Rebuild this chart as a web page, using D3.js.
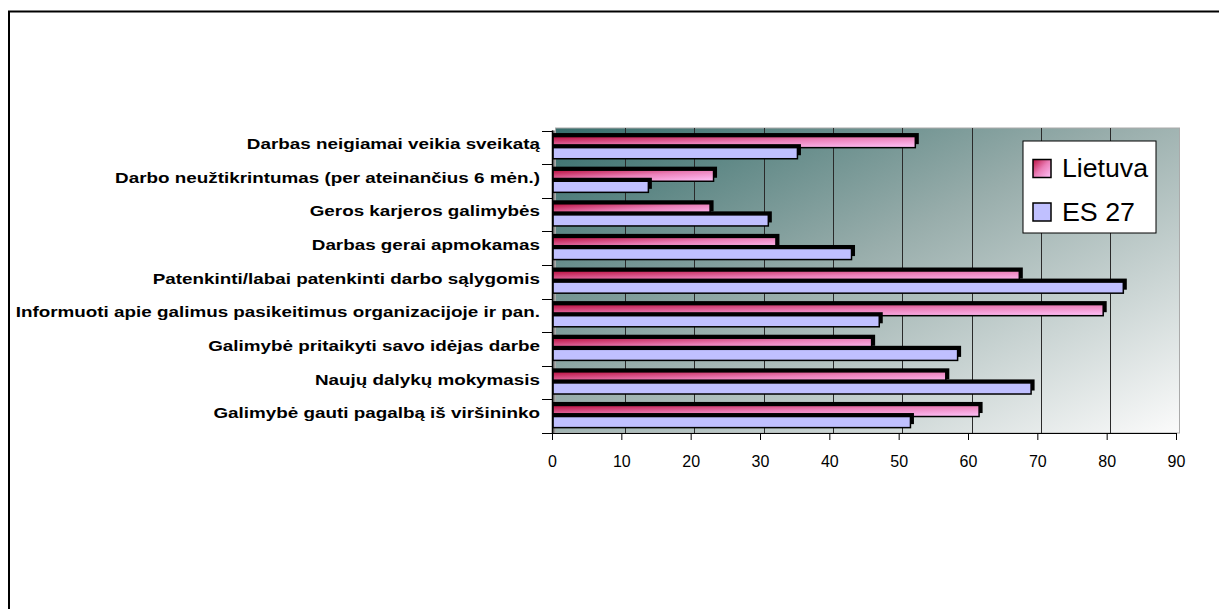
<!DOCTYPE html>
<html>
<head>
<meta charset="utf-8">
<script src="https://cdn.jsdelivr.net/npm/d3@7"></script>
<style>
  html, body { margin: 0; padding: 0; background: #fff; }
  svg { display: block; }
  text { font-family: "Liberation Sans", Arial, sans-serif; }
</style>
</head>
<body>
<svg id="chart" width="1219" height="609"></svg>
<script>
// Categories, top to bottom
const categories = [
  "Darbas neigiamai veikia sveikatą",
  "Darbo neužtikrintumas (per ateinančius 6 mėn.)",
  "Geros karjeros galimybės",
  "Darbas gerai apmokamas",
  "Patenkinti/labai patenkinti darbo sąlygomis",
  "Informuoti apie galimus pasikeitimus organizacijoje ir pan.",
  "Galimybė pritaikyti savo idėjas darbe",
  "Naujų dalykų mokymasis",
  "Galimybė gauti pagalbą iš viršininko"
];
const seriesNames = ["Lietuva", "ES 27"];
const lietuva = [52.4, 23.3, 22.8, 32.3, 67.4, 79.5, 46.1, 56.8, 61.6];
const es27    = [35.4, 13.9, 31.2, 43.2, 82.4, 47.2, 58.5, 69.1, 51.7];
const xTicks  = [0, 10, 20, 30, 40, 50, 60, 70, 80, 90];

const svg = d3.select("#chart");
const defs = svg.append("defs");

// gradients
const wallGrad = defs.append("linearGradient").attr("id", "wallGrad")
  .attr("x1", 0).attr("y1", 0).attr("x2", 1).attr("y2", 1);
wallGrad.append("stop").attr("offset", 0).attr("stop-color", "#376e6c");
wallGrad.append("stop").attr("offset", 0.45).attr("stop-color", "#98adab");
wallGrad.append("stop").attr("offset", 1).attr("stop-color", "#fbfbfb");

const redGrad = defs.append("linearGradient").attr("id", "redGrad")
  .attr("x1", 0).attr("y1", 0).attr("x2", 1).attr("y2", 1);
redGrad.append("stop").attr("offset", 0).attr("stop-color", "#bb1040");
redGrad.append("stop").attr("offset", 0.5).attr("stop-color", "#eb7fb8");
redGrad.append("stop").attr("offset", 1).attr("stop-color", "#ffc4fa");

const sideGrad = defs.append("linearGradient").attr("id", "sideGrad")
  .attr("x1", 0).attr("y1", 0).attr("x2", 1).attr("y2", 0);
sideGrad.append("stop").attr("offset", 0).attr("stop-color", "#555");
sideGrad.append("stop").attr("offset", 1).attr("stop-color", "#aaa");

const fills = { "Lietuva": "url(#redGrad)", "ES 27": "#c0c0ff" };

// outer frame
svg.append("rect")
  .attr("x", 9).attr("y", 11.5).attr("width", 1230).attr("height", 620)
  .attr("fill", "none").attr("stroke", "#000").attr("stroke-width", 2);

// scales
const x = d3.scaleLinear().domain([0, 90]).range([552, 1176]);
const y = d3.scaleBand().domain(categories).range([130.5, 433]).padding(0);
const bw = y.bandwidth();
const ySub = d3.scaleBand().domain(seriesNames).range([0.18 * bw, 0.84 * bw]).padding(0);
const depth = 3.5;

// back wall
svg.append("rect")
  .attr("x", x(0) + depth).attr("y", y.range()[0] - depth + 1)
  .attr("width", x(90) - x(0)).attr("height", y.range()[1] - y.range()[0] + depth - 1)
  .attr("fill", "url(#wallGrad)").attr("stroke", "#aaa").attr("stroke-width", 1);

// side wall strip
svg.append("rect")
  .attr("x", x(0)).attr("y", y.range()[0])
  .attr("width", depth).attr("height", y.range()[1] - y.range()[0])
  .attr("fill", "url(#sideGrad)");

// gridlines
svg.append("g").selectAll("line")
  .data(xTicks.filter(d => d > 0 && d < 90))
  .join("line")
  .attr("x1", d => Math.round(x(d) + depth) + 0.5)
  .attr("x2", d => Math.round(x(d) + depth) + 0.5)
  .attr("y1", y.range()[0] - depth + 1)
  .attr("y2", y.range()[1])
  .attr("stroke", "#2a2a2a").attr("stroke-width", 1);

// bars
const rows = categories.map((c, i) => ({ cat: c, vals: [
  { s: "Lietuva", v: lietuva[i] }, { s: "ES 27", v: es27[i] } ] }));

const gBars = svg.append("g");
rows.forEach(r => {
  r.vals.forEach(d => {
    const y0 = y(r.cat) + ySub(d.s);
    const h = ySub.bandwidth();
    // dark depth face
    gBars.append("rect")
      .attr("x", x(0) + 1).attr("y", y0 - depth)
      .attr("width", x(d.v) - x(0) + depth - 1).attr("height", h)
      .attr("fill", "#000");
    // front face
    gBars.append("rect")
      .attr("x", x(0) + 1).attr("y", y0)
      .attr("width", x(d.v) - x(0) - 1).attr("height", h)
      .attr("fill", fills[d.s]).attr("stroke", "#000").attr("stroke-width", 1.5);
  });
});

// left axis
const gy = svg.append("g");
gy.append("line").attr("x1", x(0) + 0.5).attr("x2", x(0) + 0.5)
  .attr("y1", y.range()[0]).attr("y2", y.range()[1])
  .attr("stroke", "#000").attr("stroke-width", 1.5);
gy.selectAll("line.tk").data(d3.range(categories.length + 1)).join("line")
  .attr("class", "tk")
  .attr("x1", x(0) - 10).attr("x2", x(0))
  .attr("y1", i => Math.round(y.range()[0] + i * bw) + 0.5)
  .attr("y2", i => Math.round(y.range()[0] + i * bw) + 0.5)
  .attr("stroke", "#000").attr("stroke-width", 1);
const catLabels = gy.selectAll("text").data(categories).join("text")
  .attr("x", 540)
  .attr("y", d => y(d) + bw / 2 - 3.5)
  .attr("dy", "0.35em")
  .attr("text-anchor", "end")
  .attr("font-size", 15.5).attr("font-weight", "bold")
  .attr("fill", "#000")
  .text(d => d);
// widen the category labels horizontally
catLabels.each(function () {
  const w = this.getComputedTextLength();
  d3.select(this).attr("textLength", w * 1.215).attr("lengthAdjust", "spacingAndGlyphs");
});

// bottom axis
const gx = svg.append("g").attr("transform", `translate(0,${y.range()[1]})`)
  .call(d3.axisBottom(x).tickValues(xTicks).tickSize(7).tickSizeOuter(0).tickPadding(16));
gx.select(".domain").attr("stroke", "#000").attr("stroke-width", 1.2);
gx.selectAll(".tick line").attr("stroke", "#000");
gx.selectAll(".tick text").attr("font-size", 16).attr("fill", "#000")
  .attr("font-family", "'Liberation Sans', Arial, sans-serif");

// legend
const lg = svg.append("g");
lg.append("rect").attr("x", 1023).attr("y", 141).attr("width", 133).attr("height", 92)
  .attr("fill", "#fff").attr("stroke", "#000").attr("stroke-width", 1);
const legendItems = lg.selectAll("g.item").data(seriesNames).join("g")
  .attr("class", "item")
  .attr("transform", (d, i) => `translate(1033,${159.5 + i * 43.5})`);
legendItems.append("rect").attr("width", 18).attr("height", 18)
  .attr("fill", d => fills[d]).attr("stroke", "#000").attr("stroke-width", 1.5);
legendItems.append("text")
  .attr("x", 29).attr("y", 17.5)
  .attr("font-size", 25).attr("fill", "#000")
  .attr("textLength", (d, i) => i === 0 ? 86 : 73)
  .attr("lengthAdjust", "spacingAndGlyphs")
  .text(d => d);
</script>
</body>
</html>
